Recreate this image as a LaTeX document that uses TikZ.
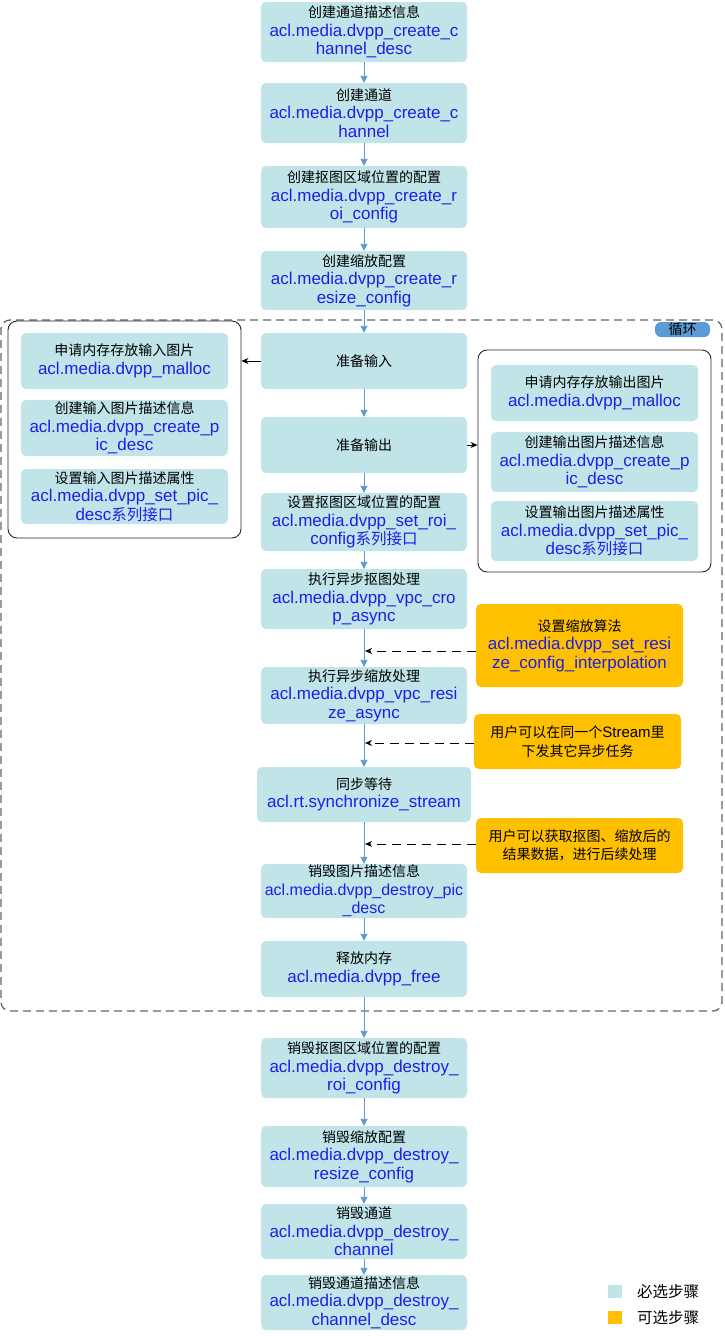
\documentclass[tikz,border=0pt]{standalone}
\usepackage{fontspec}
\setmainfont{Liberation Sans}
\newfontfamily\cjk{Noto Sans CJK SC}
\usetikzlibrary{arrows.meta}
\definecolor{boxfill}{HTML}{C1E4E8}
\definecolor{apiblue}{HTML}{1E1EE8}
\definecolor{arrblue}{HTML}{5B9BD5}
\definecolor{optorange}{HTML}{FFC000}
\definecolor{loopgray}{HTML}{666666}
\newcommand\zh[1]{{\cjk\fontsize{14}{18.5}\selectfont #1}}
\newcommand\zhb[1]{{\cjk\fontsize{15.5}{18.5}\selectfont #1}}
\newcommand\api[1]{{\color{apiblue}#1}}
\newcommand\pbox[7]{%
  \pgfmathsetmacro\pbw{#5-#3}\pgfmathsetmacro\pbh{#6-#4}%
  \pgfmathsetmacro\pbx{(#3+#5)/2}\pgfmathsetmacro\pby{(#4+#6)/2}%
  \node[#1,minimum width=\pbw pt,minimum height=\pbh pt] (#2) at (\pbx,\pby) {#7};}
\tikzset{
  stepbox/.style={fill=boxfill,rounded corners=5pt,draw=none,align=center,inner sep=0pt,
    font=\fontsize{17}{18.5}\selectfont},
  optbox/.style={stepbox,fill=optorange},
  groupbox/.style={draw=black!85,line width=0.9pt,rounded corners=9pt,inner sep=0pt},
  loopbox/.style={draw=loopgray,line width=1.3pt,dash pattern=on 8pt off 5pt,rounded corners=9pt,inner sep=0pt},
  flow/.style={draw=arrblue,line width=0.9pt,-{Triangle[length=7pt,width=7pt]}},
  blk/.style={draw=black,line width=0.9pt,-{Stealth[length=7pt,width=6pt]}},
  dsh/.style={draw=black,line width=0.9pt,dash pattern=on 9pt off 6pt,-{Stealth[length=7pt,width=6pt]}},
}
\begin{document}
\begin{tikzpicture}[x=1pt,y=-1pt]
\fill[white] (0,0) rectangle (724,1336);
\useasboundingbox (0,0) rectangle (724,1336);

% loop frame
\pbox{loopbox}{loop}{1}{320}{722}{1011}{}
\pbox{stepbox,fill=arrblue,rounded corners=6pt}{looplbl}{655}{322}{710}{337}{\zh{循环}}

% group frames
\pbox{groupbox}{lgrp}{8}{321}{241}{538}{}
\pbox{groupbox}{rgrp}{478}{350}{711}{572}{}

% main column
\pbox{stepbox}{b1}{261}{2}{467}{62}{\zh{创建通道描述信息}\\\api{acl.media.dvpp\_create\_c}\\\api{hannel\_desc}}
\pbox{stepbox}{b2}{261}{83}{467}{143}{\zh{创建通道}\\\api{acl.media.dvpp\_create\_c}\\\api{hannel}}
\pbox{stepbox}{b3}{261}{166}{467}{228}{\zh{创建抠图区域位置的配置}\\\api{acl.media.dvpp\_create\_r}\\\api{oi\_config}}
\pbox{stepbox}{b4}{261}{251}{467}{310}{\zh{创建缩放配置}\\\api{acl.media.dvpp\_create\_r}\\\api{esize\_config}}
\pbox{stepbox}{prepin}{261}{333}{467}{389}{\zh{准备输入}}
\pbox{stepbox}{prepout}{261}{417}{467}{473}{\zh{准备输出}}
\pbox{stepbox}{roi}{261}{493}{467}{551}{\zh{设置抠图区域位置的配置}\\\api{acl.media.dvpp\_set\_roi\_}\\\api{config\zhb{系列接口}}}
\pbox{stepbox}{crop}{261}{569}{467}{629}{\zh{执行异步抠图处理}\\\api{acl.media.dvpp\_vpc\_cro}\\\api{p\_async}}
\pbox{stepbox}{resize}{261}{667}{467}{724}{\zh{执行异步缩放处理}\\\api{acl.media.dvpp\_vpc\_resi}\\\api{ze\_async}}
\pbox{stepbox}{sync}{257}{767}{471}{822}{\zh{同步等待}\\\api{acl.rt.synchronize\_stream}}
\pbox{stepbox,font=\fontsize{16}{18.5}\selectfont}{dpic}{261}{864}{467}{918}{\zh{销毁图片描述信息}\\\api{acl.media.dvpp\_destroy\_pic}\\\api{\_desc}}
\pbox{stepbox}{free}{261}{941}{467}{997}{\zh{释放内存}\\\api{acl.media.dvpp\_free}}
\pbox{stepbox}{droi}{261}{1038}{467}{1098}{\zh{销毁抠图区域位置的配置}\\\api{acl.media.dvpp\_destroy\_}\\\api{roi\_config}}
\pbox{stepbox}{dres}{261}{1126}{467}{1187}{\zh{销毁缩放配置}\\\api{acl.media.dvpp\_destroy\_}\\\api{resize\_config}}
\pbox{stepbox}{dch}{261}{1204}{467}{1259}{\zh{销毁通道}\\\api{acl.media.dvpp\_destroy\_}\\\api{channel}}
\pbox{stepbox}{dchd}{261}{1275}{467}{1330}{\zh{销毁通道描述信息}\\\api{acl.media.dvpp\_destroy\_}\\\api{channel\_desc}}

% left group
\pbox{stepbox}{l1}{21}{333}{228}{389}{\zh{申请内存存放输入图片}\\\api{acl.media.dvpp\_malloc}}
\pbox{stepbox}{l2}{21}{400}{228}{456}{\zh{创建输入图片描述信息}\\\api{acl.media.dvpp\_create\_p}\\\api{ic\_desc}}
\pbox{stepbox}{l3}{21}{469}{228}{524}{\zh{设置输入图片描述属性}\\\api{acl.media.dvpp\_set\_pic\_}\\\api{desc\zhb{系列接口}}}

% right group
\pbox{stepbox}{r1}{491}{365}{698}{421}{\zh{申请内存存放输出图片}\\\api{acl.media.dvpp\_malloc}}
\pbox{stepbox}{r2}{491}{432}{698}{492}{\zh{创建输出图片描述信息}\\\api{acl.media.dvpp\_create\_p}\\\api{ic\_desc}}
\pbox{stepbox}{r3}{491}{501}{698}{561}{\zh{设置输出图片描述属性}\\\api{acl.media.dvpp\_set\_pic\_}\\\api{desc\zhb{系列接口}}}

% optional steps
\pbox{optbox}{o1}{476}{604}{683}{687}{\zh{设置缩放算法}\\\api{acl.media.dvpp\_set\_resi}\\\api{ze\_config\_interpolation}}
\pbox{optbox}{o2}{474}{714}{681}{769}{\zh{用户可以在同一个{\rmfamily\fontsize{15}{18.5}\selectfont Stream}里}\\\zh{下发其它异步任务}}
\pbox{optbox}{o3}{476}{818}{683}{873}{\zh{用户可以获取抠图、缩放后的}\\\zh{结果数据，进行后续处理}}

% legend
\pbox{stepbox,rounded corners=0pt}{lg1}{608}{1285}{622}{1298}{}
\pbox{optbox,rounded corners=0pt}{lg2}{608}{1311}{622}{1324}{}
\node[anchor=west,inner sep=0pt] (lgt1) at (637,1292) {\zhb{必选步骤}};
\node[anchor=west,inner sep=0pt] (lgt2) at (637,1318) {\zhb{可选步骤}};

% main flow
\draw[flow] (b1) -- (b2);
\draw[flow] (b2) -- (b3);
\draw[flow] (b3) -- (b4);
\draw[flow] (b4) -- (prepin);
\draw[flow] (prepin) -- (prepout);
\draw[flow] (prepout) -- (roi);
\draw[flow] (roi) -- (crop);
\draw[flow] (crop) -- (resize);
\draw[flow] (resize) -- (sync);
\draw[flow] (sync) -- (dpic);
\draw[flow] (dpic) -- (free);
\draw[flow] (free) -- (droi);
\draw[flow] (droi) -- (dres);
\draw[flow] (dres) -- (dch);
\draw[flow] (dch) -- (dchd);

% side arrows
\draw[blk] (prepin.west) -- (prepin.west -| lgrp.east);
\draw[blk] (prepout.east) -- (prepout.east -| rgrp.west);

% dashed hints
\coordinate (t1) at (365,651);
\coordinate (t2) at (365,743);
\coordinate (t3) at (365,844);
\draw[dsh] (o1.west |- t1) -- (t1);
\draw[dsh] (o2.west |- t2) -- (t2);
\draw[dsh] (o3.west |- t3) -- (t3);
\end{tikzpicture}
\end{document}
